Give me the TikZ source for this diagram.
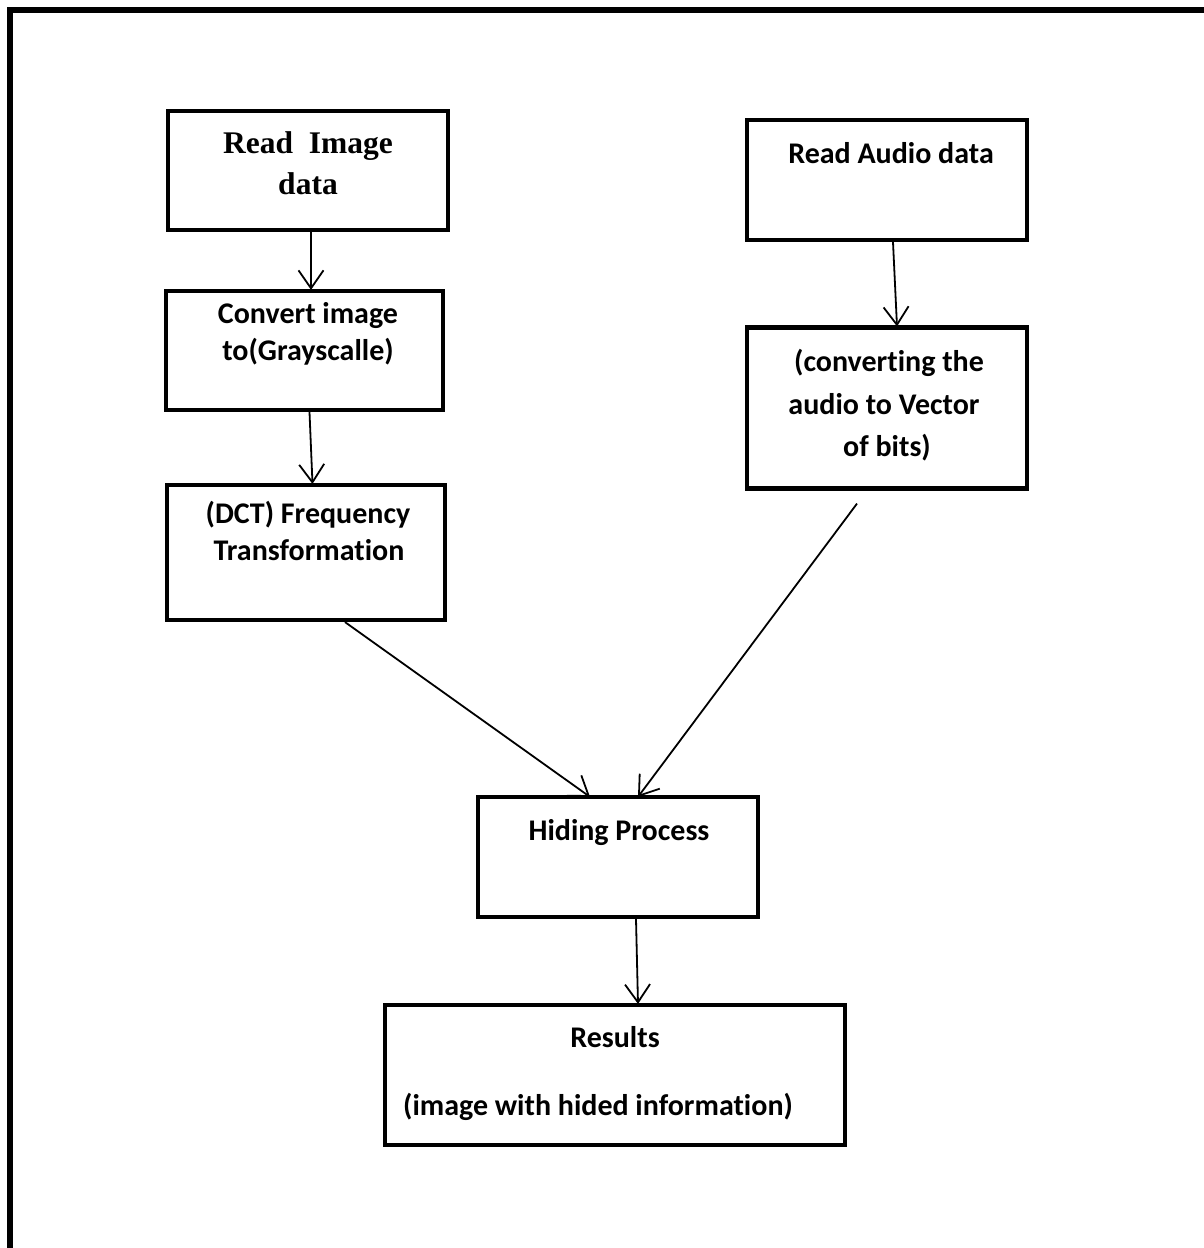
\documentclass[tikz,border=0pt]{standalone}
\usepackage{fontspec}
\usetikzlibrary{arrows.meta}
\newfontfamily\carl[Ligatures=NoCommon]{Carlito}
\newfontfamily\tms{Liberation Serif}
\begin{document}
\begin{tikzpicture}[x=1pt,y=-1pt,
  box/.style={draw=black,line width=4.2pt,inner sep=0pt,fill=none},
  arr/.style={draw=black,line width=1.8pt,-{Straight Barb[length=18pt,width=25pt,line width=1.8pt]}},
  ctxt/.style={anchor=base,inner sep=0pt,font=\carl\bfseries\fontsize{30}{36}\selectfont},
  ttxt/.style={anchor=base,inner sep=0pt,font=\tms\bfseries\fontsize{31.5}{36}\selectfont}]
\useasboundingbox (0,0) rectangle (1203,1248);
% outer frame (cropped at right and bottom)
\draw[line width=5.3pt,line join=miter] (10,1250) -- (10,10) -- (1205,10);
% boxes
\node[box,minimum width=280pt,minimum height=119pt] (img)  at (308,170.5) {};
\node[box,minimum width=277pt,minimum height=119pt] (gray) at (304.5,350.5) {};
\node[box,minimum width=278pt,minimum height=135pt] (dct)  at (306,552.5) {};
\node[box,minimum width=280pt,minimum height=120pt] (aud)  at (887,180) {};
\node[box,minimum width=280pt,minimum height=161pt] (conv) at (887,408) {};
\node[box,minimum width=280pt,minimum height=120pt] (hide) at (618,857) {};
\node[box,minimum width=460pt,minimum height=140pt] (res)  at (615,1075) {};
% texts
\node[ttxt] (t1a) at (308,153) {Read\ \ Image};
\node[ttxt] (t1b) at (308,194) {data};
\node[ctxt] (t2a) at (308,323) {Convert image};
\node[ctxt] (t2b) at (308,360) {to(Grayscalle)};
\node[ctxt] (t3a) at (308,523) {(DCT) Frequency};
\node[ctxt] (t3b) at (309,560) {Transformation};
\node[ctxt] (t4a) at (891,163) {Read Audio data};
\node[ctxt] (t5a) at (889,371) {(converting the};
\node[ctxt] (t5b) at (884,414) {audio to Vector};
\node[ctxt] (t5c) at (887,456) {of bits)};
\node[ctxt] (t6a) at (619,840) {Hiding Process};
\node[ctxt] (t7a) at (615,1047) {Results};
\node[ctxt] (t7b) at (598,1115) {(image with hided information)};
% connectors
\draw[arr] ([xshift=3pt]img.south) -- ([xshift=6.5pt,yshift=-1pt]gray.north);
\draw[arr] ([xshift=5pt]gray.south) -- ([xshift=6.5pt,yshift=-1pt]dct.north);
\draw[arr] ([xshift=6pt]aud.south) -- ([xshift=10pt,yshift=-1pt]conv.north);
\draw[arr] ([xshift=39pt]dct.south) -- ([xshift=-28pt,yshift=-2pt]hide.north);
\draw[arr] ([shift={(-30pt,-13pt)}]conv.south) -- ([xshift=20pt,yshift=-2pt]hide.north);
\draw[arr] ([xshift=18pt]hide.south) -- ([xshift=23pt,yshift=-1pt]res.north);
\end{tikzpicture}
\end{document}
